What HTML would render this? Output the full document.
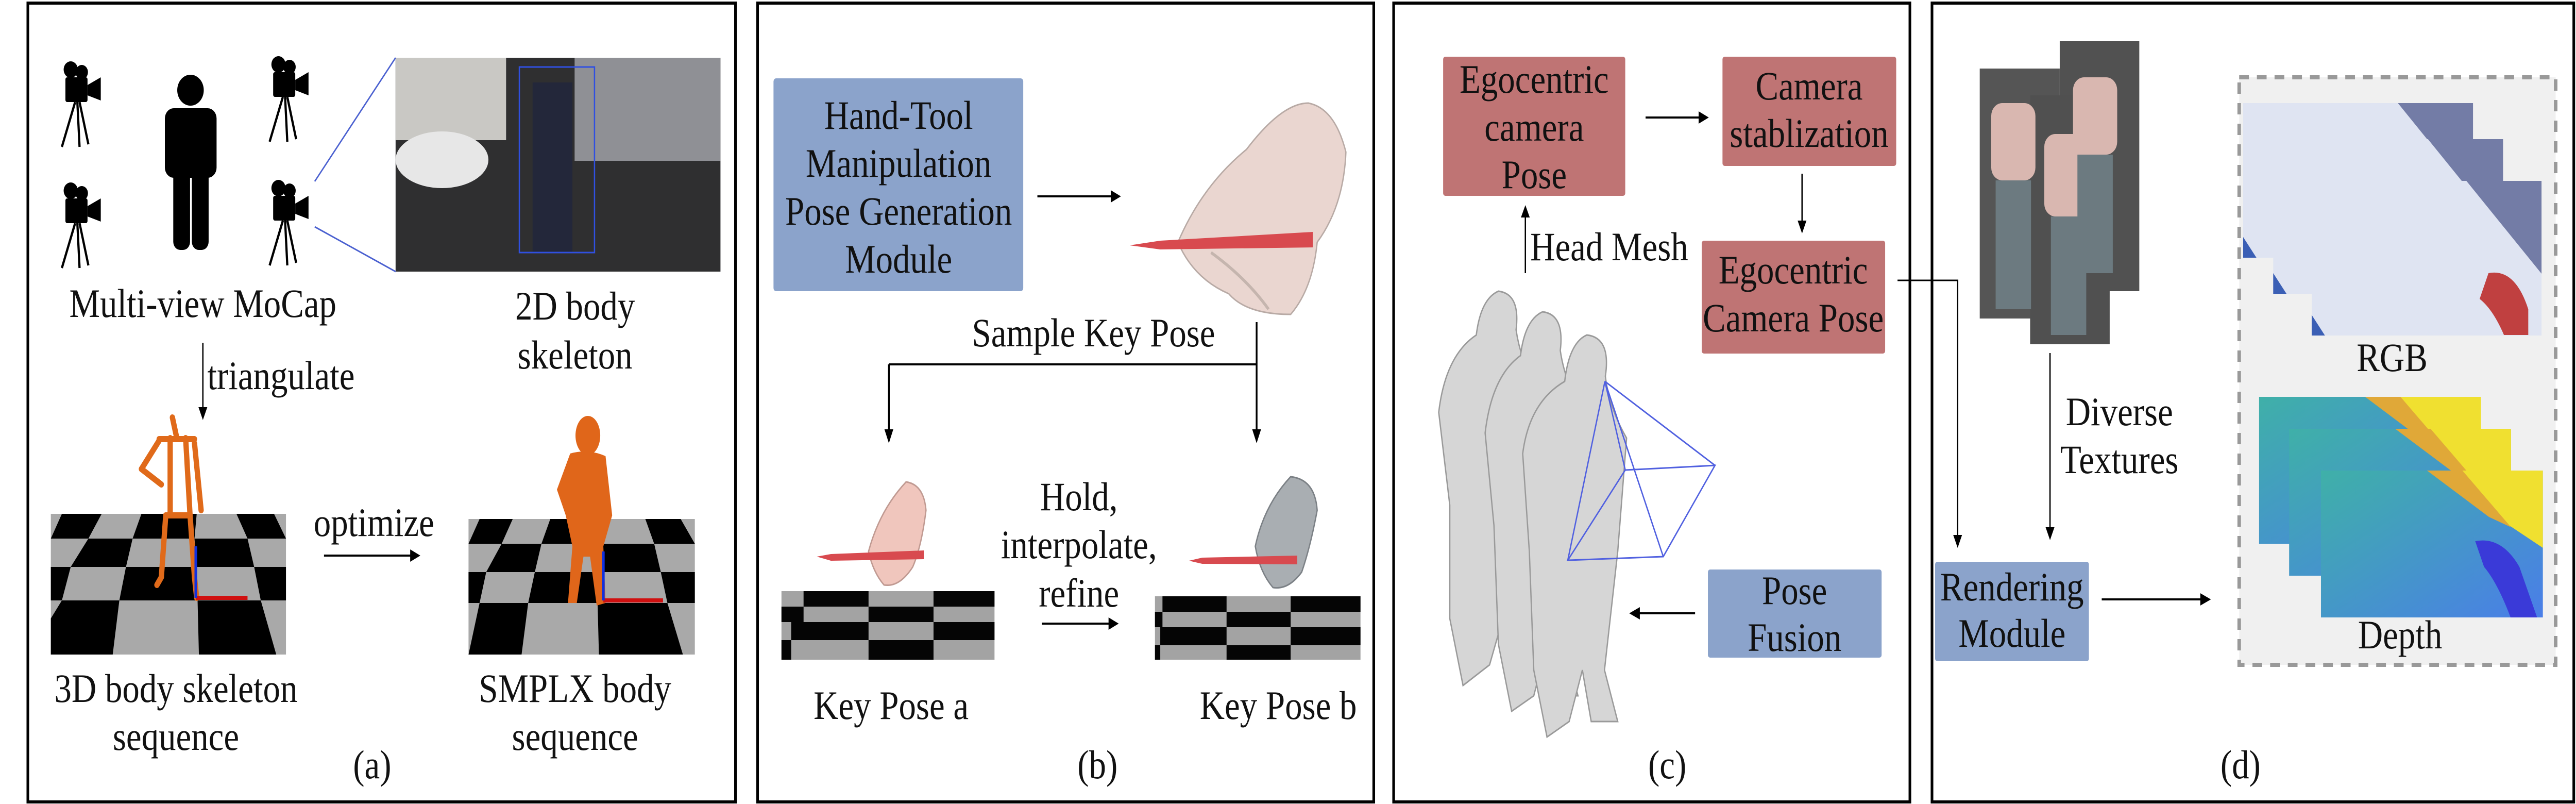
<!DOCTYPE html>
<html><head><meta charset="utf-8"><style>
html,body{margin:0;padding:0;background:#fff;width:100%;height:100%;overflow:hidden;}
svg{display:block;width:100vw;height:100vh;}
text{font-family:"Liberation Serif",serif;font-size:78px;fill:#111;}
</style></head><body>
<svg viewBox="0 0 5828 1560" preserveAspectRatio="none" xmlns="http://www.w3.org/2000/svg">
<defs>
<g id="cam"><circle cx="160" cy="135" r="16"/><circle cx="185" cy="140" r="14"/><rect x="148" y="150" width="50" height="48" rx="4"/><polygon points="198,165 228,150 228,195 198,185"/><line x1="170" y1="198" x2="140" y2="285" stroke="#000" stroke-width="5"/><line x1="175" y1="198" x2="180" y2="285" stroke="#000" stroke-width="5"/><line x1="180" y1="198" x2="200" y2="280" stroke="#000" stroke-width="5"/></g>
<g id="rgb"><rect x="0" y="0" width="520" height="300" fill="#dfe4f2"/><polygon points="350,0 520,0 520,180" fill="#737ca6"/><polygon points="0,260 0,300 30,300" fill="#3b5fb5"/></g>
<linearGradient id="dg" x1="0" y1="0" x2="1" y2="1"><stop offset="0" stop-color="#3fb0a8"/><stop offset="1" stop-color="#4a7ee8"/></linearGradient>
<g id="dep"><rect x="0" y="0" width="502" height="285" fill="url(#dg)"/><polygon points="240,0 502,0 502,150" fill="#f0e030"/><polygon points="240,0 320,0 430,110 380,90" fill="#e0a838"/></g>
</defs>
<g fill="none" stroke="#000" stroke-width="6">
<rect x="63" y="6" width="1601" height="1550"/>
<rect x="1714" y="6" width="1394" height="1550"/>
<rect x="3153" y="6" width="1168" height="1550"/>
<rect x="4371" y="6" width="1452" height="1550"/>
</g>

<!-- Panel a -->
<g fill="#000">
<use href="#cam" x="0" y="0"/>
<use href="#cam" x="0" y="235"/>
<use href="#cam" x="470" y="-10"/>
<use href="#cam" x="470" y="230"/>
<circle cx="431" cy="175" r="30"/>
<rect x="373" y="210" width="117" height="135" rx="20"/>
<rect x="392" y="300" width="38" height="185" rx="16"/>
<rect x="434" y="300" width="38" height="185" rx="16"/>
</g>
<rect x="895" y="112" width="735" height="415" fill="#2f2f30"/>
<rect x="1300" y="112" width="330" height="200" fill="#8f9095"/>
<rect x="895" y="112" width="250" height="160" fill="#c9c8c4"/>
<ellipse cx="1000" cy="310" rx="105" ry="55" fill="#e7e7e7"/>
<rect x="1205" y="160" width="90" height="330" fill="#23273a"/>
<rect x="1175" y="130" width="170" height="360" fill="none" stroke="#3050e0" stroke-width="3"/>
<line x1="712" y1="352" x2="895" y2="112" stroke="#4a60d0" stroke-width="3"/>
<line x1="712" y1="440" x2="895" y2="527" stroke="#4a60d0" stroke-width="3"/>
<text x="459" y="615" text-anchor="middle">Multi-view MoCap</text>
<text x="1301" y="620" text-anchor="middle">2D body</text>
<text x="1301" y="715" text-anchor="middle">skeleton</text>
<line x1="459" y1="665" x2="459" y2="790" stroke="#000" stroke-width="3"/><polygon points="449,790 469,790 459,815"/>
<text x="469" y="755">triangulate</text>
<rect x="115" y="997" width="532" height="273" fill="#a9a9a9"/>
<g fill="#000">
<polygon points="140,997 230,997 200,1045 115,1045"/><polygon points="320,997 445,997 440,1045 300,1045"/><polygon points="535,997 620,997 647,1045 560,1045"/>
<polygon points="200,1045 300,1045 285,1100 160,1100"/><polygon points="440,1045 560,1045 575,1100 445,1100"/>
<polygon points="115,1100 160,1100 140,1165 115,1165"/><polygon points="285,1100 445,1100 447,1165 270,1165"/><polygon points="575,1100 647,1100 647,1165 590,1165"/>
<polygon points="140,1165 270,1165 255,1270 115,1270 115,1200"/><polygon points="447,1165 590,1165 625,1270 450,1270"/>
</g>
<g stroke="#e06a1a" stroke-width="12" stroke-linecap="round" fill="none">
<line x1="390" y1="810" x2="400" y2="850"/>
<line x1="385" y1="850" x2="385" y2="1000"/><line x1="420" y1="850" x2="430" y2="1000"/><line x1="360" y1="855" x2="320" y2="910"/><line x1="320" y1="910" x2="365" y2="940"/><line x1="440" y1="860" x2="455" y2="990"/><line x1="375" y1="1000" x2="365" y2="1120"/><line x1="365" y1="1120" x2="355" y2="1135"/><line x1="430" y1="1000" x2="440" y2="1120"/><line x1="440" y1="1120" x2="445" y2="1160"/><line x1="360" y1="852" x2="440" y2="852"/><line x1="375" y1="1000" x2="430" y2="1000"/>
</g>
<line x1="443" y1="1160" x2="560" y2="1160" stroke="#d01010" stroke-width="8"/>
<line x1="443" y1="1060" x2="443" y2="1160" stroke="#1030e0" stroke-width="6"/>
<text x="846" y="1040" text-anchor="middle">optimize</text>
<line x1="733" y1="1078" x2="930" y2="1078" stroke="#000" stroke-width="4"/><polygon points="928,1066 951,1078 928,1090"/>
<rect x="1060" y="1007" width="512" height="263" fill="#a9a9a9"/>
<g fill="#000">
<polygon points="1085,1007 1160,1007 1135,1055 1060,1055"/><polygon points="1245,1007 1350,1007 1345,1055 1225,1055"/><polygon points="1460,1007 1540,1007 1572,1055 1480,1055"/>
<polygon points="1135,1055 1225,1055 1210,1110 1100,1110"/><polygon points="1345,1055 1480,1055 1495,1110 1350,1110"/>
<polygon points="1060,1110 1100,1110 1085,1170 1060,1170"/><polygon points="1210,1110 1350,1110 1352,1170 1195,1170"/><polygon points="1495,1110 1572,1110 1572,1170 1510,1170"/>
<polygon points="1085,1170 1195,1170 1180,1270 1060,1270"/><polygon points="1352,1170 1510,1170 1545,1270 1355,1270"/>
</g>
<g fill="#e0661a">
<ellipse cx="1330" cy="845" rx="28" ry="38"/>
<path d="M1290,880 Q1330,870 1370,885 L1385,1000 L1365,1060 L1370,1170 L1350,1175 L1335,1080 L1320,1080 L1305,1170 L1285,1170 L1295,1060 L1280,1000 L1260,950 Z"/>
</g>
<line x1="1365" y1="1165" x2="1500" y2="1165" stroke="#d01010" stroke-width="8"/>
<line x1="1365" y1="1070" x2="1365" y2="1165" stroke="#1030e0" stroke-width="6"/>
<text x="398" y="1362" text-anchor="middle">3D body skeleton</text>
<text x="398" y="1455" text-anchor="middle">sequence</text>
<text x="1301" y="1362" text-anchor="middle">SMPLX body</text>
<text x="1301" y="1455" text-anchor="middle">sequence</text>
<text x="842" y="1510" text-anchor="middle">(a)</text>

<!-- Panel b -->
<rect x="1750" y="152" width="565" height="413" rx="6" fill="#8ba3cb"/>
<text x="2033" y="250" text-anchor="middle">Hand-Tool</text>
<text x="2033" y="343" text-anchor="middle">Manipulation</text>
<text x="2033" y="436" text-anchor="middle">Pose Generation</text>
<text x="2033" y="529" text-anchor="middle">Module</text>
<line x1="2347" y1="381" x2="2515" y2="381" stroke="#000" stroke-width="4"/><polygon points="2513,369 2536,381 2513,393"/>
<path d="M2960,200 Q3020,210 3045,295 Q3040,400 2980,470 Q2970,560 2920,610 Q2820,610 2780,570 Q2700,540 2665,470 Q2720,360 2820,290 Q2900,200 2960,200 Z" fill="#ead6d0" stroke="#b8aaa5" stroke-width="3"/>
<path d="M2740,490 Q2820,540 2870,600" stroke="#c5b5ae" stroke-width="6" fill="none"/>
<polygon points="2556,476 2625,467 2970,450 2970,480 2625,484" fill="#d84a4f"/>
<text x="2474" y="672" text-anchor="middle">Sample Key Pose</text>
<g stroke="#000" stroke-width="4" fill="none">
<line x1="2843" y1="625" x2="2843" y2="835"/>
<line x1="2011" y1="707" x2="2843" y2="707"/>
<line x1="2011" y1="707" x2="2011" y2="835"/>
</g>
<polygon points="2001,833 2021,833 2011,860"/><polygon points="2833,833 2853,833 2843,860"/>
<path d="M2050,935 Q2090,940 2095,990 Q2085,1060 2065,1100 Q2035,1140 2000,1135 Q1975,1110 1965,1070 Q1990,990 2050,935 Z" fill="#f0c6bd" stroke="#c09a92" stroke-width="3"/>
<polygon points="1848,1080 1880,1075 2090,1068 2090,1085 1880,1088" fill="#d84a4f"/>
<rect x="1768" y="1147" width="482" height="133" fill="#a3a3a3"/>
<g fill="#050505"><rect x="1818" y="1147" width="147" height="30"/><rect x="2112" y="1147" width="138" height="30"/><rect x="1768" y="1177" width="50" height="30"/><rect x="1965" y="1177" width="147" height="30"/><rect x="1790" y="1207" width="175" height="35"/><rect x="2112" y="1207" width="138" height="35"/><rect x="1768" y="1242" width="22" height="38"/><rect x="1965" y="1242" width="147" height="38"/></g>
<text x="2441" y="990" text-anchor="middle">Hold,</text>
<text x="2441" y="1083" text-anchor="middle">interpolate,</text>
<text x="2441" y="1177" text-anchor="middle">refine</text>
<line x1="2357" y1="1210" x2="2510" y2="1210" stroke="#000" stroke-width="4"/><polygon points="2508,1198 2531,1210 2508,1222"/>
<path d="M2920,925 Q2975,930 2980,990 Q2965,1060 2945,1110 Q2915,1145 2880,1140 Q2850,1110 2840,1060 Q2860,980 2920,925 Z" fill="#a9aeb2" stroke="#7c8186" stroke-width="3"/>
<polygon points="2690,1088 2720,1082 2935,1078 2935,1095 2720,1094" fill="#d84a4f"/>
<rect x="2613" y="1157" width="465" height="123" fill="#a3a3a3"/>
<g fill="#050505"><rect x="2630" y="1157" width="145" height="30"/><rect x="2920" y="1157" width="158" height="30"/><rect x="2613" y="1187" width="17" height="30"/><rect x="2775" y="1187" width="145" height="30"/><rect x="2625" y="1217" width="150" height="35"/><rect x="2920" y="1217" width="158" height="35"/><rect x="2775" y="1252" width="145" height="28"/><rect x="2613" y="1252" width="12" height="28"/></g>
<text x="2016" y="1395" text-anchor="middle">Key Pose a</text>
<text x="2892" y="1395" text-anchor="middle">Key Pose b</text>
<text x="2483" y="1510" text-anchor="middle">(b)</text>

<!-- Panel c -->
<rect x="3265" y="110" width="412" height="270" rx="5" fill="#bf7474"/>
<text x="3471" y="180" text-anchor="middle">Egocentric</text>
<text x="3471" y="273" text-anchor="middle">camera</text>
<text x="3471" y="365" text-anchor="middle">Pose</text>
<line x1="3723" y1="228" x2="3845" y2="228" stroke="#000" stroke-width="4"/><polygon points="3843,216 3866,228 3843,240"/>
<rect x="3897" y="110" width="393" height="212" rx="5" fill="#bf7474"/>
<text x="4093" y="193" text-anchor="middle">Camera</text>
<text x="4093" y="285" text-anchor="middle">stablization</text>
<line x1="4077" y1="337" x2="4077" y2="430" stroke="#000" stroke-width="3"/><polygon points="4067,428 4087,428 4077,453"/>
<rect x="3850" y="467" width="415" height="219" rx="5" fill="#bf7474"/>
<text x="4057" y="550" text-anchor="middle">Egocentric</text>
<text x="4057" y="643" text-anchor="middle">Camera Pose</text>
<line x1="3451" y1="530" x2="3451" y2="420" stroke="#000" stroke-width="3"/><polygon points="3441,422 3461,422 3451,398"/>
<text x="3462" y="505">Head Mesh</text>
<polyline points="4293,544 4429,544 4429,1040" fill="none" stroke="#000" stroke-width="3"/><polygon points="4419,1038 4439,1038 4429,1063"/>
<g fill="#d6d6d6" stroke="#9a9a9a" stroke-width="3">
<path d="M3390,565 Q3440,570 3430,640 Q3440,700 3480,760 L3470,980 L3440,1200 L3470,1290 L3420,1290 L3400,1200 L3370,1290 L3310,1330 L3280,1200 L3280,980 L3255,800 Q3270,690 3340,650 Q3350,580 3390,565 Z"/>
<path d="M3490,605 Q3540,610 3530,680 Q3540,740 3580,800 L3570,1020 L3540,1250 L3570,1350 L3520,1350 L3500,1250 L3470,1350 L3420,1380 L3390,1250 L3380,1020 L3360,840 Q3375,730 3440,690 Q3450,620 3490,605 Z"/>
<path d="M3590,650 Q3645,655 3632,730 Q3640,790 3680,850 L3660,1070 L3630,1300 L3660,1400 L3600,1400 L3580,1300 L3550,1400 L3500,1430 L3470,1300 L3460,1070 L3445,880 Q3460,780 3540,740 Q3550,665 3590,650 Z"/>
</g>
<g stroke="#5060e0" stroke-width="3" fill="none">
<line x1="3631" y1="740" x2="3880" y2="903"/><line x1="3631" y1="740" x2="3677" y2="912"/><line x1="3631" y1="740" x2="3547" y2="1087"/><line x1="3631" y1="740" x2="3763" y2="1080"/>
<polygon points="3677,912 3880,903 3763,1080 3547,1087"/>
</g>
<rect x="3864" y="1105" width="393" height="171" rx="5" fill="#8ba3cb"/>
<text x="4060" y="1172" text-anchor="middle">Pose</text>
<text x="4060" y="1263" text-anchor="middle">Fusion</text>
<line x1="3835" y1="1190" x2="3708" y2="1190" stroke="#000" stroke-width="4"/><polygon points="3710,1178 3686,1190 3710,1202"/>
<text x="3772" y="1510" text-anchor="middle">(c)</text>

<!-- Panel d -->
<rect x="4660" y="80" width="180" height="485" fill="#515151"/>
<rect x="4479" y="133" width="181" height="485" fill="#555"/>
<rect x="4593" y="185" width="180" height="483" fill="#505050"/>
<g fill="#d9b7b0"><rect x="4505" y="200" width="100" height="150" rx="25"/><rect x="4690" y="150" width="100" height="150" rx="25"/><rect x="4625" y="260" width="110" height="160" rx="25"/></g>
<g fill="#6c7a80"><rect x="4515" y="350" width="80" height="250"/><rect x="4700" y="300" width="80" height="230"/><rect x="4640" y="420" width="80" height="230"/></g>
<line x1="4638" y1="685" x2="4638" y2="1025" stroke="#000" stroke-width="3"/><polygon points="4628,1023 4648,1023 4638,1048"/>
<text x="4795" y="825" text-anchor="middle">Diverse</text>
<text x="4795" y="918" text-anchor="middle">Textures</text>
<rect x="4378" y="1090" width="348" height="193" rx="5" fill="#8ba3cb"/>
<text x="4552" y="1165" text-anchor="middle">Rendering</text>
<text x="4552" y="1255" text-anchor="middle">Module</text>
<line x1="4755" y1="1163" x2="4980" y2="1163" stroke="#000" stroke-width="4"/><polygon points="4978,1151 5002,1163 4978,1175"/>
<rect x="5066" y="150" width="716" height="1140" fill="#f0f0f0" stroke="#999" stroke-width="8" stroke-dasharray="22,18"/>
<use href="#rgb" x="5075" y="200"/>
<use href="#rgb" x="5143" y="270"/>
<use href="#rgb" x="5230" y="351"/>
<path d="M5630,530 Q5690,520 5720,600 L5720,650 L5665,650 Q5640,600 5610,580 Z" fill="#c04040"/>
<text x="5412" y="720" text-anchor="middle">RGB</text>
<use href="#dep" x="5111" y="770"/>
<use href="#dep" x="5179" y="832"/>
<use href="#dep" x="5251" y="913"/>
<path d="M5600,1050 Q5660,1040 5700,1100 L5740,1198 L5680,1198 Q5650,1130 5620,1100 Z" fill="#3a3ad8"/>
<text x="5430" y="1258" text-anchor="middle">Depth</text>
<text x="5069" y="1510" text-anchor="middle">(d)</text>
</svg>
</body></html>
